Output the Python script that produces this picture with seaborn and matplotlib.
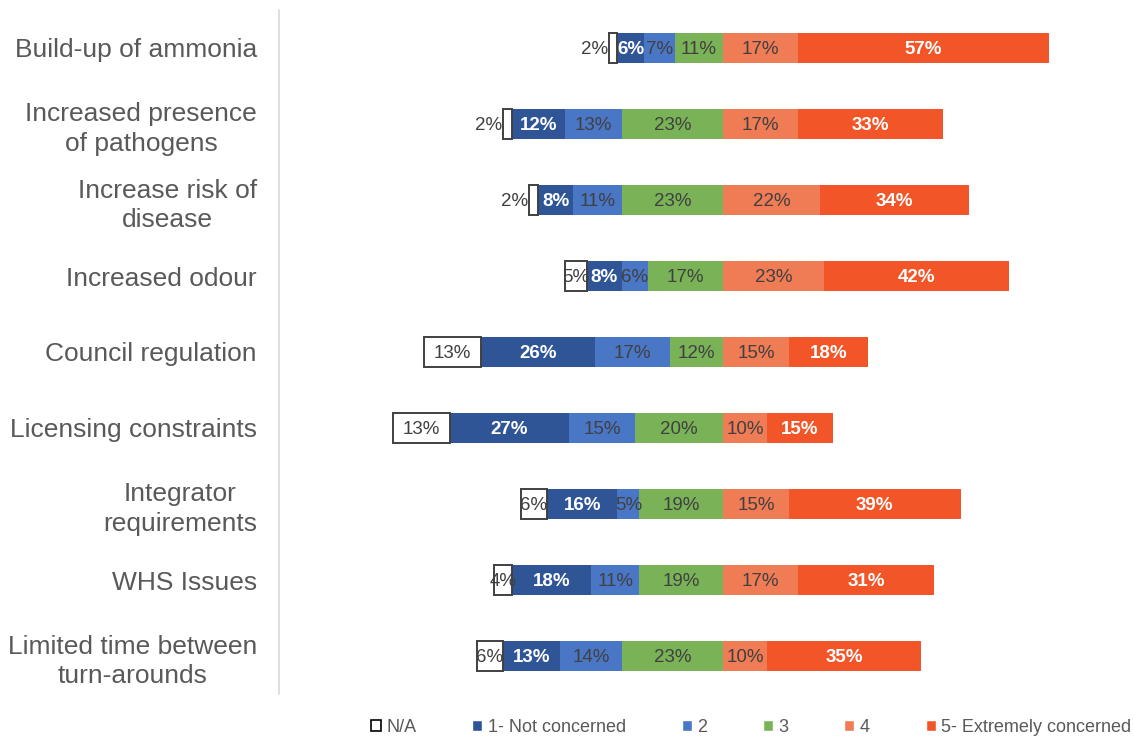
import matplotlib
matplotlib.use("Agg")
import matplotlib.pyplot as plt
from matplotlib.patches import Patch
import seaborn as sns
import numpy as np

categories = [
    "Build-up of ammonia",
    "Increased presence\nof pathogens",
    "Increase risk of\ndisease",
    "Increased odour",
    "Council regulation",
    "Licensing constraints",
    "Integrator\nrequirements",
    "WHS Issues",
    "Limited time between\nturn-arounds",
]
na_vals = [2, 2, 2, 5, 13, 13, 6, 4, 6]
lvl1 = [6, 12, 8, 8, 26, 27, 16, 18, 13]
lvl2 = [7, 13, 11, 6, 17, 15, 5, 11, 14]
lvl3 = [11, 23, 23, 17, 12, 20, 19, 19, 23]
lvl4 = [17, 17, 22, 23, 15, 10, 15, 17, 10]
lvl5 = [57, 33, 34, 42, 18, 15, 39, 31, 35]

legend_labels = ["N/A", "1- Not concerned", "2", "3", "4", "5- Extremely concerned"]
colors = {
    "1": "#2F5597",
    "2": "#4A76C6",
    "3": "#7AB357",
    "4": "#F07C56",
    "5": "#F25527",
}
text_grey = "#595959"
label_dark = "#404040"

sns.set_theme(style="white")
plt.rcParams["font.family"] = ["Liberation Sans", "DejaVu Sans"]

fig = plt.figure(figsize=(11.34, 7.38), dpi=100)
ax = fig.add_axes([279 / 1134, 1 - 694 / 738, (1130 - 279) / 1134, 684 / 738])

n1 = np.array(lvl1, float)
n2 = np.array(lvl2, float)
n3 = np.array(lvl3, float)
n4 = np.array(lvl4, float)
n5 = np.array(lvl5, float)
na = np.array(na_vals, float)

bar_w = 0.39

# Diverging stack: levels 1-3 extend left of zero, 4-5 to the right.
# Drawn as cumulative bars from the outside in so inner segments sit on top.
left_cum = [(-(n1 + n2 + n3), colors["1"]), (-(n2 + n3), colors["2"]), (-n3, colors["3"])]
right_cum = [(n4 + n5, colors["5"]), (n4, colors["4"])]
for vals, col in left_cum + right_cum:
    sns.barplot(x=vals, y=categories, order=categories, orient="h", color=col,
                saturation=1, width=bar_w, linewidth=0, ax=ax)

# N/A box sits beyond the "not concerned" segment
ypos = np.arange(len(categories))
na_left = -(n1 + n2 + n3 + na)
ax.barh(ypos, na, left=na_left, height=bar_w, color="white",
        edgecolor=label_dark, linewidth=1.4, zorder=3)

fs = 13.5
def put(x, y, v, white, ha="center"):
    ax.text(x, y, f"{int(v)}%", ha=ha, va="center_baseline", fontsize=fs,
            color="white" if white else label_dark,
            fontweight="bold" if white else "normal", zorder=5)

for i in range(len(categories)):
    b3 = -n3[i]
    b2 = b3 - n2[i]
    b1 = b2 - n1[i]
    b0 = b1 - na[i]
    if na[i] < 3:
        put(b0 - 0.2, i, na[i], False, ha="right")
    else:
        put((b0 + b1) / 2, i, na[i], False)
    put((b1 + b2) / 2, i, n1[i], True)
    put((b2 + b3) / 2, i, n2[i], False)
    put(b3 / 2, i, n3[i], False)
    put(n4[i] / 2, i, n4[i], False)
    put(n4[i] + n5[i] / 2, i, n5[i], True)

ax.set_xlim(-100.9, 92.5)
ax.set_ylim(len(categories) - 0.5, -0.5)
ax.set_xlabel("")
ax.set_ylabel("")
ax.set_xticks([])
ax.set_yticks(ypos)
ax.set_yticklabels(categories, fontsize=19, color=text_grey,
                   multialignment="center", linespacing=1.3)
ax.tick_params(axis="y", length=0, pad=16)
for side in ["top", "right", "bottom"]:
    ax.spines[side].set_visible(False)
ax.spines["left"].set_color("#D9D9D9")
ax.spines["left"].set_linewidth(1.2)

handles = [
    Patch(facecolor="white", edgecolor="black", linewidth=1.2),
    Patch(facecolor=colors["1"]),
    Patch(facecolor=colors["2"]),
    Patch(facecolor=colors["3"]),
    Patch(facecolor=colors["4"]),
    Patch(facecolor=colors["5"]),
]
leg = fig.legend(handles, legend_labels, loc="center", ncol=6,
                 bbox_to_anchor=(751 / 1134, 1 - 727 / 738), frameon=False,
                 fontsize=13, handlelength=0.55, handleheight=0.55,
                 handletextpad=0.3, columnspacing=3.1)
for t in leg.get_texts():
    t.set_color(text_grey)

fig.savefig("out.png", dpi=100)
